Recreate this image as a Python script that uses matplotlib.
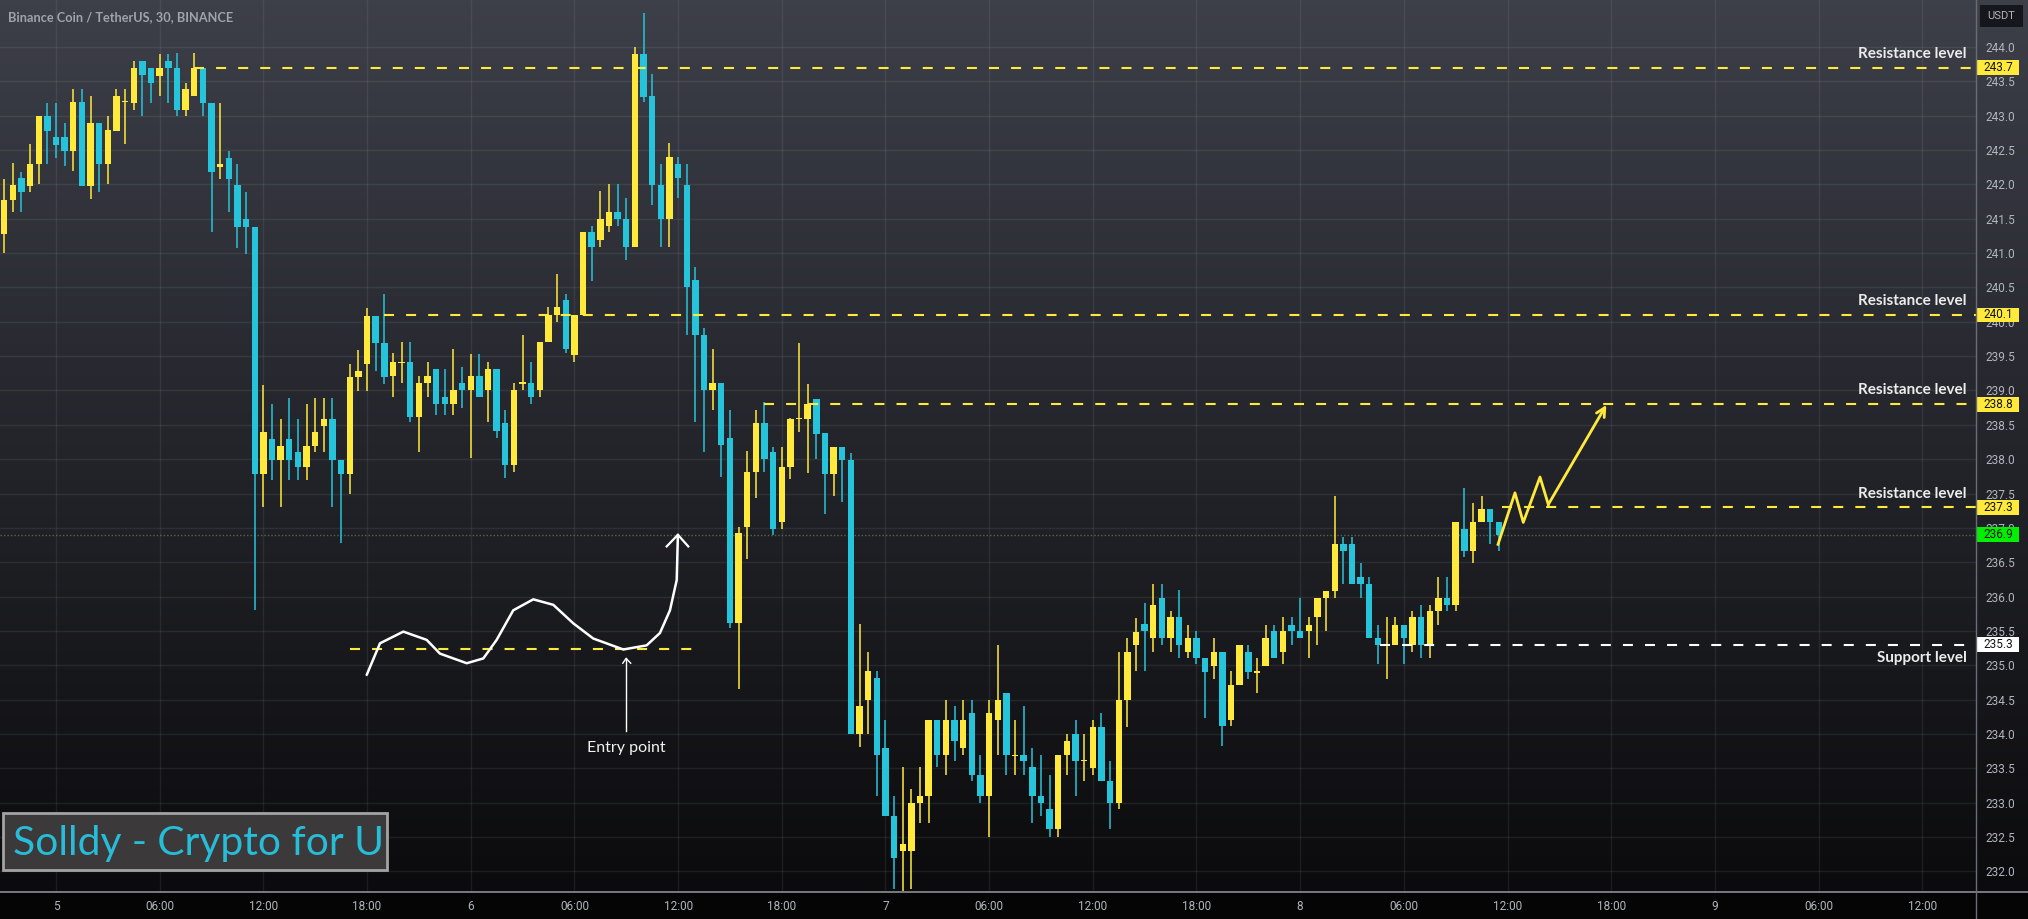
import numpy as np
import matplotlib.pyplot as plt
from matplotlib.lines import Line2D
from matplotlib.patches import Rectangle
from matplotlib import transforms

# 30 minute candles, the first one opens at hour -3 (day 5 = hour 0)
first_hour = -3.0
opens = [241.28, 241.77, 242.09, 241.98, 242.29, 242.99, 242.69, 242.69, 242.49, 243.20,
         241.98, 242.90, 242.29, 242.78, 243.20, 243.19, 243.79, 243.69, 243.58, 243.79,
         243.69, 243.08, 243.28, 243.70, 243.19, 242.25, 242.39, 241.99, 241.49, 241.38,
         237.78, 238.29, 237.99, 238.29, 238.10, 237.89, 238.19, 238.49, 238.59, 237.99,
         237.78, 239.19, 239.39, 240.09, 239.69, 239.21, 239.40, 239.42, 238.61, 239.11,
         239.31, 238.91, 238.81, 239.11, 239.01, 239.21, 239.01, 239.31, 238.52, 237.92,
         239.10, 239.11, 239.01, 239.71, 240.10, 240.31, 239.51, 240.10, 241.30, 241.19,
         241.40, 241.60, 241.50, 241.09, 243.90, 243.28, 241.99, 241.49, 242.30, 241.99,
         240.61, 239.81, 239.01, 239.11, 238.31, 235.62, 237.01, 237.82, 238.52, 238.10,
         237.08, 237.89, 238.58, 238.58, 238.88, 238.38, 237.78, 238.18, 237.99, 234.00,
         234.50, 234.81, 233.80, 232.80, 232.30, 232.30, 233.00, 233.10, 234.21, 233.69,
         234.21, 233.79, 234.30, 233.40, 233.10, 234.21, 234.59, 233.68, 233.69, 233.52,
         233.10, 232.91, 232.61, 233.69, 234.00, 233.60, 233.50, 234.10, 233.31, 233.00,
         234.50, 235.29, 235.60, 235.39, 235.98, 235.39, 235.70, 235.19, 235.39, 235.10,
         234.99, 235.19, 234.20, 234.71, 235.19, 234.89, 234.99, 235.50, 235.19, 235.59,
         235.50, 235.50, 235.70, 235.98, 236.08, 236.77, 236.77, 236.29, 236.18, 235.39,
         235.29, 235.30, 235.59, 235.30, 235.70, 235.30, 235.79, 235.98, 235.88, 236.98,
         236.67, 237.08, 237.28, 237.08]
highs = [242.08, 242.31, 242.18, 242.59, 243.00, 243.19, 243.19, 242.90, 243.39, 243.39,
         243.29, 242.90, 242.99, 243.39, 243.39, 243.79, 243.79, 243.69, 243.90, 243.90,
         243.91, 243.48, 243.91, 243.70, 243.19, 243.19, 242.49, 242.29, 241.89, 241.38,
         239.08, 238.80, 238.59, 238.89, 238.59, 238.80, 238.89, 238.89, 238.89, 237.99,
         239.39, 239.59, 240.20, 240.09, 240.40, 239.54, 239.71, 239.71, 239.21, 239.41,
         239.31, 239.31, 239.61, 239.34, 239.53, 239.53, 239.41, 239.31, 238.72, 239.11,
         239.81, 239.41, 239.71, 240.22, 240.70, 240.41, 240.10, 241.30, 241.40, 241.90,
         242.00, 242.00, 241.80, 244.00, 244.50, 243.60, 242.30, 242.60, 242.40, 242.30,
         240.80, 239.91, 239.61, 239.11, 238.71, 237.01, 238.12, 238.72, 238.83, 238.18,
         238.18, 238.60, 239.69, 239.09, 238.88, 238.38, 238.18, 238.18, 238.09, 235.60,
         235.20, 234.91, 234.21, 233.10, 233.52, 233.20, 233.52, 234.21, 234.21, 234.50,
         234.41, 234.50, 234.50, 233.69, 234.50, 235.29, 234.59, 234.21, 234.41, 233.79,
         233.69, 233.40, 233.69, 234.00, 234.21, 234.00, 234.21, 234.30, 233.61, 235.20,
         235.39, 235.69, 235.90, 236.19, 236.19, 235.79, 236.09, 235.59, 235.50, 235.10,
         235.39, 235.19, 234.91, 235.30, 235.30, 235.11, 235.59, 235.59, 235.70, 235.70,
         235.98, 235.70, 235.98, 236.08, 237.46, 236.87, 236.87, 236.49, 236.29, 235.59,
         235.70, 235.70, 235.59, 235.79, 235.88, 235.88, 236.29, 236.29, 237.08, 237.58,
         237.36, 237.46, 237.28, 237.08]
lows = [241.00, 241.60, 241.60, 241.89, 242.00, 242.30, 242.39, 242.27, 242.20, 241.98,
        241.79, 241.89, 242.00, 242.78, 242.59, 243.09, 242.99, 243.19, 243.29, 243.19,
        242.99, 242.99, 243.28, 242.99, 241.30, 242.08, 241.60, 241.08, 240.98, 235.81,
        237.30, 237.70, 237.30, 237.70, 237.70, 237.70, 238.10, 238.10, 237.30, 236.78,
        237.49, 238.99, 238.99, 239.29, 239.09, 238.91, 239.11, 238.54, 238.11, 238.91,
        238.64, 238.64, 238.64, 238.74, 238.02, 238.91, 238.54, 238.31, 237.72, 237.82,
        239.01, 238.81, 238.91, 239.71, 240.00, 239.54, 239.41, 240.10, 240.60, 241.09,
        241.30, 241.40, 240.90, 241.09, 243.20, 241.70, 241.09, 241.09, 241.80, 239.81,
        238.54, 238.11, 238.72, 237.74, 235.55, 234.65, 236.55, 237.43, 237.82, 236.90,
        236.99, 237.71, 238.39, 237.80, 238.01, 237.20, 237.47, 237.38, 234.00, 233.81,
        234.00, 233.10, 232.80, 231.75, 231.72, 231.75, 232.70, 232.70, 233.52, 233.41,
        233.61, 233.69, 233.31, 233.00, 232.50, 233.69, 233.41, 233.41, 233.41, 232.70,
        232.80, 232.50, 232.50, 233.40, 233.10, 233.31, 233.41, 233.31, 232.61, 232.91,
        234.10, 234.91, 234.91, 235.19, 235.30, 235.19, 235.11, 235.11, 235.02, 234.23,
        234.80, 233.82, 234.11, 234.71, 234.80, 234.60, 234.99, 235.10, 235.02, 235.30,
        235.39, 235.11, 235.30, 235.50, 235.98, 236.19, 236.18, 235.98, 235.39, 235.02,
        234.80, 235.30, 235.02, 235.19, 235.11, 235.11, 235.59, 235.79, 235.79, 236.58,
        236.49, 237.08, 236.77, 236.67]
closes = [241.77, 241.99, 241.89, 242.30, 242.99, 242.78, 242.58, 242.49, 243.20, 241.98,
          242.90, 242.29, 242.79, 243.28, 243.22, 243.70, 243.59, 243.48, 243.69, 243.69,
          243.08, 243.39, 243.70, 243.19, 242.18, 242.30, 242.08, 241.38, 241.38, 237.78,
          238.39, 237.99, 238.19, 237.99, 237.89, 238.19, 238.39, 238.59, 237.99, 237.78,
          239.19, 239.29, 240.09, 239.69, 239.20, 239.42, 239.42, 238.61, 239.11, 239.21,
          238.81, 238.81, 239.01, 239.01, 239.21, 238.91, 239.31, 238.41, 237.92, 239.01,
          239.11, 238.91, 239.71, 240.10, 240.21, 239.61, 240.10, 241.30, 241.09, 241.50,
          241.60, 241.50, 241.09, 243.90, 243.27, 241.99, 241.49, 242.40, 242.09, 240.50,
          239.81, 239.01, 239.11, 238.21, 235.62, 236.93, 237.82, 238.52, 238.01, 236.99,
          237.89, 238.59, 238.60, 238.80, 238.37, 237.78, 238.18, 237.99, 234.00, 234.41,
          234.91, 233.69, 232.80, 232.20, 232.40, 233.00, 233.10, 234.21, 233.69, 234.21,
          233.90, 234.21, 233.40, 233.10, 234.30, 234.50, 233.69, 233.70, 233.61, 233.10,
          233.00, 232.61, 233.69, 233.90, 233.61, 233.62, 234.10, 233.31, 233.00, 234.50,
          235.20, 235.49, 235.50, 235.88, 235.39, 235.70, 235.30, 235.39, 235.10, 234.90,
          235.19, 234.11, 234.71, 235.30, 234.90, 234.91, 235.39, 235.10, 235.50, 235.50,
          235.39, 235.59, 235.98, 236.08, 236.77, 236.67, 236.18, 236.18, 235.39, 235.30,
          235.31, 235.59, 235.39, 235.70, 235.30, 235.79, 235.98, 235.88, 237.08, 236.67,
          237.08, 237.28, 237.08, 236.90]

hour_ticks = list(range(0, 109, 6))
hour_labels = ['5', '06:00', '12:00', '18:00', '6', '06:00', '12:00', '18:00',
               '7', '06:00', '12:00', '18:00', '8', '06:00', '12:00', '18:00',
               '9', '06:00', '12:00']
price_ticks = [232.0 + 0.5 * k for k in range(25)]

# horizontal levels drawn on the chart (price, start hour)
resistance = [243.7, 240.1, 238.8, 237.3]
resistance_start = [8.0, 19.0, 41.0, 83.7]
support = 235.3
support_start = 76.6
last_price = 236.9

# hand drawn "entry" curve
curve_h = [17.98, 18.75, 20.10, 21.45, 22.22, 23.77, 24.73, 25.50, 26.46, 27.62,
           28.78, 29.94, 31.09, 32.83, 34.18, 34.95, 35.53, 35.92, 35.99]
curve_p = [234.86, 235.32, 235.49, 235.37, 235.17, 235.03, 235.10, 235.37, 235.80, 235.96,
           235.88, 235.61, 235.39, 235.23, 235.29, 235.47, 235.80, 236.24, 236.90]
entry_level = 235.24
entry_span = (17.0, 37.46)
entry_h = 32.99

# projected zigzag
zig_h = [83.45, 84.43, 84.91, 85.88, 86.36]
zig_p = [236.76, 237.51, 237.08, 237.74, 237.34]
zig_tip = (89.72, 238.79)

YELLOW = '#ffe93b'
CYAN = '#26c4db'
GREY = '#b2b5be'
FONT = ['Lato', 'DejaVu Sans']
NUM = ['Roboto', 'DejaVu Sans']

W, H = 2028, 919
fig = plt.figure(figsize=(W / 100, H / 100), dpi=100, facecolor='#050505')
axis_y = (H - 892) / H
axis_x = 1976 / W

# background gradient
bg = fig.add_axes([0, axis_y, 1, 1 - axis_y])
grad = np.linspace(0, 1, 256).reshape(-1, 1)
top = np.array([61, 63, 73]) / 255
bot = np.array([11, 11, 13]) / 255
img = top + (bot - top) * grad[..., None]
bg.imshow(np.repeat(img, 2, axis=1), aspect='auto', extent=[0, 1, 0, 1])
bg.axis('off')

ax = fig.add_axes([0, axis_y, axis_x, 1 - axis_y])
ax.set_facecolor('none')
ax.set_xlim(-3.24, 111.11)
ax.set_ylim(231.70, 244.684)

for s in ax.spines.values():
    s.set_visible(False)

ax.set_xticks(hour_ticks)
ax.set_xticklabels(hour_labels, fontfamily=NUM, fontsize=8.5, color=GREY)
ax.yaxis.tick_right()
ax.set_yticks(price_ticks)
ax.set_yticklabels(['%.1f' % p for p in price_ticks], fontfamily=NUM, fontsize=8.5, color=GREY)
ax.tick_params(length=0)
ax.tick_params(axis='x', pad=6)
ax.tick_params(axis='y', pad=7)
ax.grid(True, color='white', alpha=0.07, lw=1)
ax.set_axisbelow(True)

# candles
hours = first_hour + 0.5 * np.arange(len(opens))
o, hi, lo, c = (np.array(v) for v in (opens, highs, lows, closes))
cols = np.where(c >= o, YELLOW, CYAN)
ax.vlines(hours, lo, hi, colors=cols, lw=1.1, zorder=2)
ax.bar(hours, np.maximum(np.abs(c - o), 0.02), bottom=np.minimum(o, c),
       width=0.37, color=cols, lw=0, zorder=3)

# current price line
ax.axhline(last_price, color='#6f9a6f', lw=1, ls=(0, (1, 1.5)), alpha=0.6, zorder=1)

dash = (0, (4.8, 5.8))
for lvl, st in zip(resistance, resistance_start):
    ax.hlines(lvl, st, 111.11, color=YELLOW, lw=1.5, ls=dash, zorder=4)
    ax.text(110.57, lvl + 0.2, 'Resistance level', ha='right', va='center',
            fontfamily=FONT, fontsize=11, fontweight='bold', color='#ececec', zorder=5)
ax.hlines(support, support_start, 111.11, color='white', lw=1.5, ls=dash, zorder=4)
ax.text(110.57, support - 0.2, 'Support level', ha='right', va='center',
        fontfamily=FONT, fontsize=11, fontweight='bold', color='#ececec', zorder=5)

# entry sketch
ax.hlines(entry_level, entry_span[0], entry_span[1], color=YELLOW, lw=1.5, ls=dash, zorder=4)
ax.plot(curve_h, curve_p, color='white', lw=1.8, zorder=5, solid_capstyle='round',
        solid_joinstyle='round')
ax.plot([35.34, curve_h[-1], 36.59], [236.73, curve_p[-1], 236.73], color='white', lw=1.6, zorder=5)
ax.plot([entry_h, entry_h], [235.10, 234.04], color='white', lw=1, zorder=5)
ax.plot([32.80, entry_h, 33.26], [235.03, 235.10, 235.03], color='white', lw=1, zorder=5)
ax.text(entry_h, 233.80, 'Entry point', ha='center', va='center', fontfamily=FONT,
        fontsize=11.5, color='#f2f2f2', zorder=5)

# projected path
ax.plot(zig_h, zig_p, color=YELLOW, lw=2, zorder=5)
ax.annotate('', xy=zig_tip, xytext=(zig_h[-1], zig_p[-1]),
            arrowprops=dict(arrowstyle='->', color=YELLOW, lw=2, mutation_scale=16,
                            shrinkA=0, shrinkB=0), zorder=5)

# axis separator lines
fig.add_artist(Line2D([0, 1], [axis_y, axis_y], transform=fig.transFigure, color='#8a8d96', lw=1.2))
fig.add_artist(Line2D([axis_x, axis_x], [0, 1], transform=fig.transFigure, color='#6a6d76', lw=1))

# price boxes on the right scale
tr = transforms.blended_transform_factory(fig.transFigure, ax.transData)
boxes = [(243.7, YELLOW), (240.1, YELLOW), (238.8, YELLOW), (237.3, YELLOW),
         (last_price, '#00f000'), (support, 'white')]
for p, col in boxes:
    ax.add_patch(Rectangle((axis_x, p - 0.107), 43 / W, 0.214, transform=tr,
                           facecolor=col, edgecolor='none', clip_on=False, zorder=6))
    ax.text(1998 / W, p, '%.1f' % p, transform=tr, ha='center', va='center',
            fontfamily=NUM, fontsize=8.5, color='#141414', zorder=7, clip_on=False)

fig.add_artist(Rectangle((1980 / W, 1 - 27 / H), 43 / W, 22 / H, transform=fig.transFigure,
                         facecolor='#15171c', edgecolor='none'))
fig.text(2001.5 / W, 1 - 16 / H, 'USDT', ha='center', va='center', fontfamily=NUM,
         fontsize=8, color=GREY)

fig.text(8 / W, 1 - 17 / H, 'Binance Coin / TetherUS, 30, BINANCE', ha='left', va='center',
         fontfamily=FONT, fontsize=9.2, fontweight='bold', color='#a0a3ab')

# watermark
fig.add_artist(Rectangle((3 / W, (H - 870) / H), 384 / W, 57 / H, transform=fig.transFigure,
                         facecolor='#3b3939', edgecolor='#a3a3a3', lw=2))
fig.text(13 / W, (H - 855) / H, 'Solldy - Crypto for U', ha='left', va='baseline',
         fontfamily=FONT, fontsize=29.3, color='#27bcd8')

fig.savefig('out.png', dpi=100, facecolor=fig.get_facecolor())
